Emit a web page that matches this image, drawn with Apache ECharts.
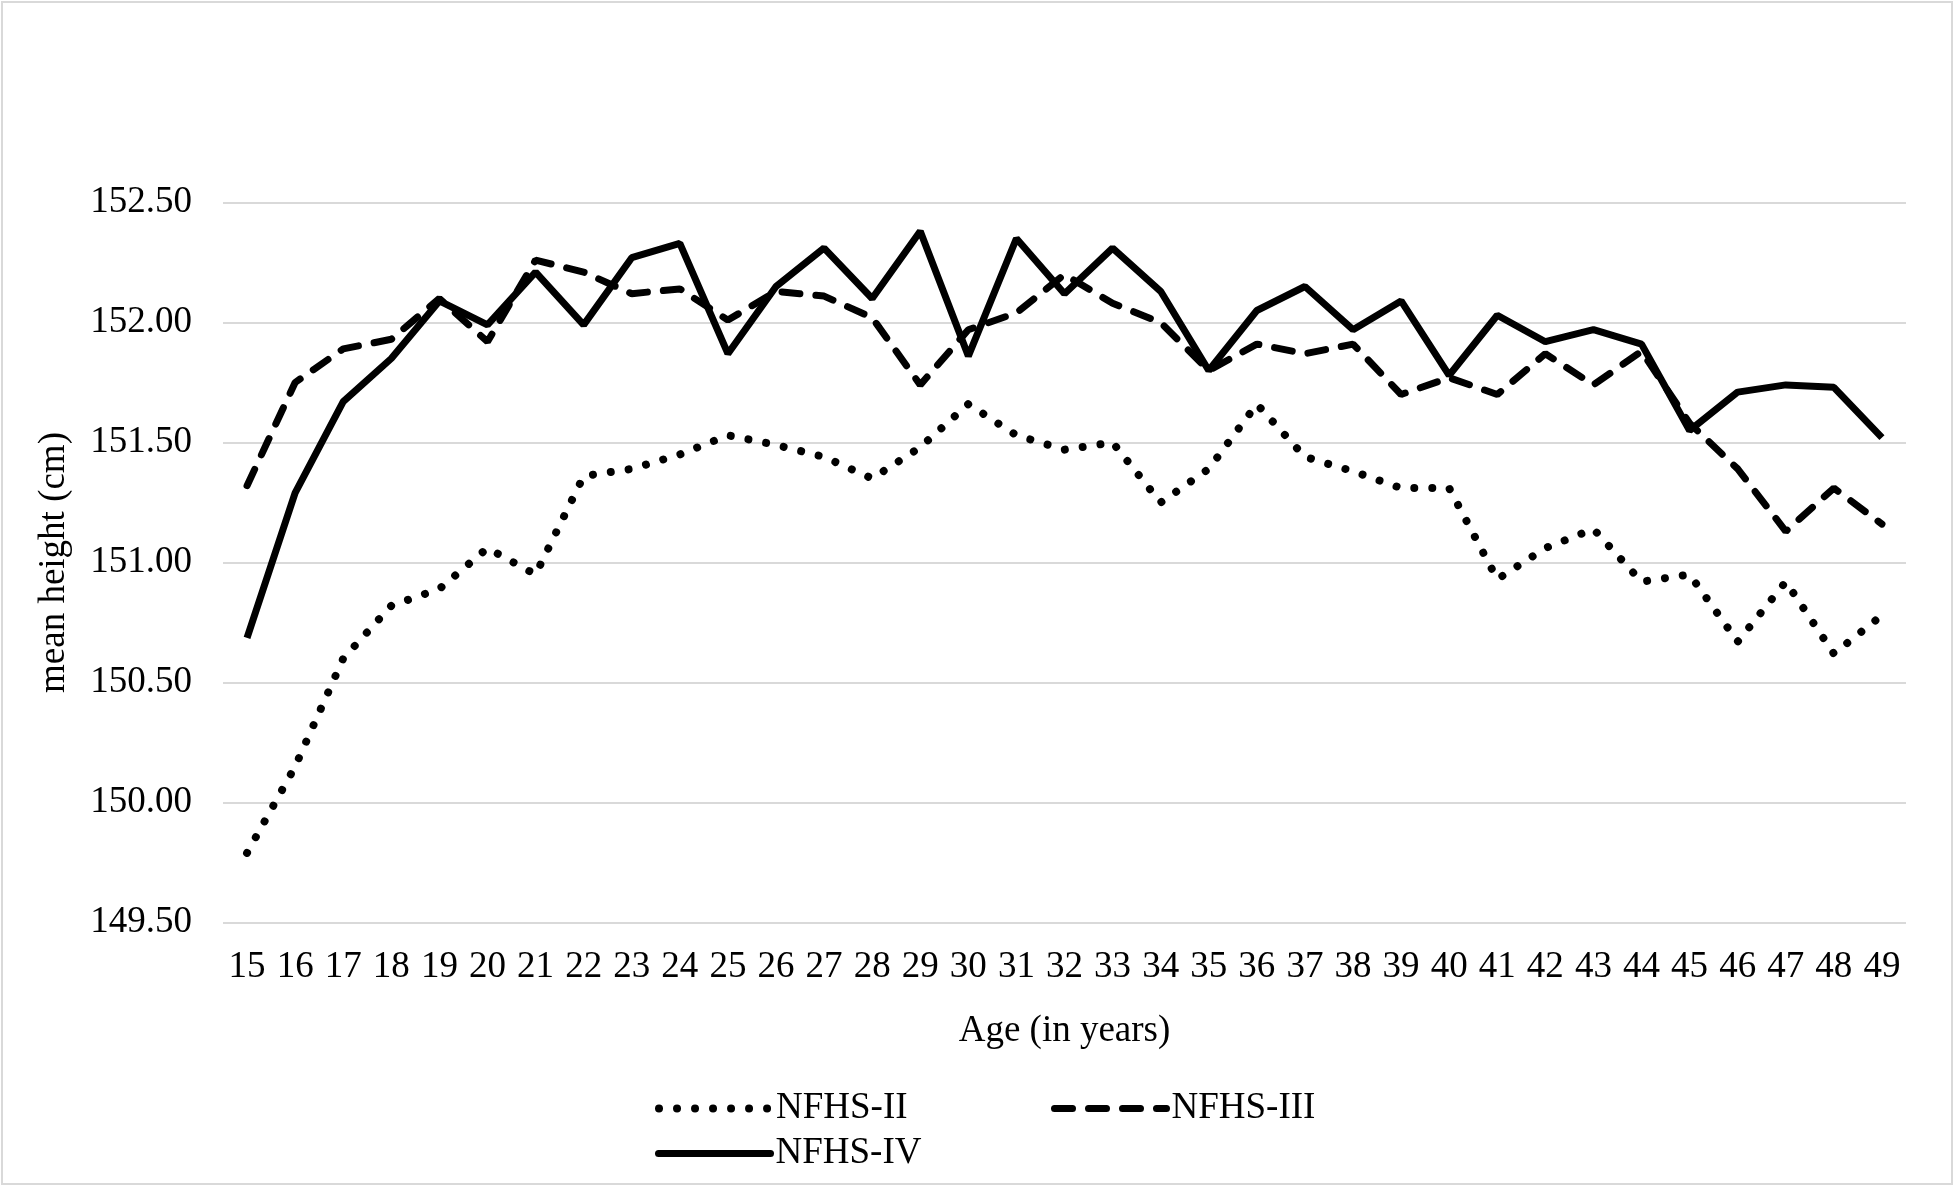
<!DOCTYPE html>
<html>
<head>
<meta charset="utf-8">
<script src="https://cdn.jsdelivr.net/npm/echarts@6/dist/echarts.min.js"></script>
<style>
html,body{margin:0;padding:0;background:#fff;}
#c{width:1954px;height:1187px;}
</style>
</head>
<body>
<div id="c"></div>
<script>
const ages = ['15','16','17','18','19','20','21','22','23','24','25','26','27','28','29','30','31','32','33','34','35','36','37','38','39','40','41','42','43','44','45','46','47','48','49'];
const nfhs2 = [149.79,150.15,150.60,150.82,150.89,151.06,150.95,151.36,151.39,151.45,151.53,151.49,151.44,151.35,151.48,151.66,151.53,151.47,151.50,151.25,151.39,151.66,151.44,151.38,151.31,151.31,150.93,151.06,151.14,150.92,150.95,150.67,150.92,150.62,150.78];
const nfhs3 = [151.32,151.75,151.89,151.93,152.10,151.92,152.26,152.21,152.12,152.14,152.01,152.13,152.11,152.02,151.74,151.97,152.04,152.20,152.08,152.00,151.80,151.91,151.87,151.91,151.70,151.77,151.70,151.87,151.74,151.88,151.58,151.39,151.13,151.31,151.16];
const nfhs4 = [150.686,151.29,151.67,151.85,152.09,151.99,152.21,151.99,152.27,152.33,151.87,152.15,152.31,152.10,152.38,151.86,152.35,152.12,152.31,152.13,151.80,152.05,152.15,151.97,152.09,151.78,152.03,151.92,151.97,151.91,151.55,151.71,151.74,151.73,151.52];
const seriesNames = ['NFHS-II','NFHS-III','NFHS-IV'];
const yTicks = {min:149.5, max:152.5, step:0.5};

const FONT = '"Liberation Serif", "Times New Roman", serif';
const chart = echarts.init(document.getElementById('c'), null, {renderer:'canvas'});
const legendText = {fontFamily:FONT, fontSize:37, color:'#000'};
const dotStyle = {color:'#000', width:8, type:[0.01,18], cap:'round'};
const dashStyle = {color:'#000', width:7, type:[18,16], cap:'round'};
const solidStyle = {color:'#000', width:7, type:'solid', cap:'round'};
const hiddenSym = {opacity:0, color:'rgba(0,0,0,0)', borderWidth:0};
chart.setOption({
  animation:false,
  backgroundColor:'#fff',
  textStyle:{fontFamily:FONT, color:'#000'},
  graphic:[{type:'rect', shape:{x:2, y:2, width:1950, height:1182}, style:{fill:'none', stroke:'#d9d9d9', lineWidth:2}, silent:true}],
  grid:{left:223, right:48, top:202.5, bottom:264.5},
  xAxis:{
    type:'category', data:ages, boundaryGap:true,
    name:'Age (in years)', nameLocation:'middle', nameGap:90,
    nameTextStyle:{fontFamily:FONT, fontSize:37, color:'#000'},
    axisLine:{show:false}, axisTick:{show:false},
    axisLabel:{fontFamily:FONT, fontSize:37, color:'#000', margin:26, interval:0}
  },
  yAxis:{
    type:'value', min:yTicks.min, max:yTicks.max, interval:yTicks.step,
    name:'mean height (cm)', nameLocation:'middle', nameGap:150,
    nameTextStyle:{fontFamily:FONT, fontSize:37, color:'#000'},
    axisLine:{show:false}, axisTick:{show:false},
    axisLabel:{fontFamily:FONT, fontSize:37, color:'#000', margin:31, formatter:v=>v.toFixed(2)},
    splitLine:{lineStyle:{color:'#d9d9d9', width:2}}
  },
  legend:[
    {data:[seriesNames[0]], left:650, top:1085, itemWidth:112, itemHeight:14, textStyle:legendText, lineStyle:dotStyle, itemStyle:hiddenSym},
    {data:[seriesNames[1]], left:1046, top:1085, itemWidth:112, itemHeight:14, textStyle:legendText, lineStyle:dashStyle, itemStyle:hiddenSym},
    {data:[seriesNames[2]], left:650, top:1130, itemWidth:112, itemHeight:14, textStyle:legendText, lineStyle:solidStyle, itemStyle:hiddenSym}
  ],
  series:[
    {name:seriesNames[0], type:'line', data:nfhs2, symbol:'none', showSymbol:false,
     lineStyle:dotStyle, itemStyle:{color:'#000'}},
    {name:seriesNames[1], type:'line', data:nfhs3, symbol:'none', showSymbol:false,
     lineStyle:dashStyle, itemStyle:{color:'#000'}},
    {name:seriesNames[2], type:'line', data:nfhs4, symbol:'none', showSymbol:false,
     lineStyle:{color:'#000', width:7}, itemStyle:{color:'#000'}}
  ]
});
</script>
</body>
</html>
